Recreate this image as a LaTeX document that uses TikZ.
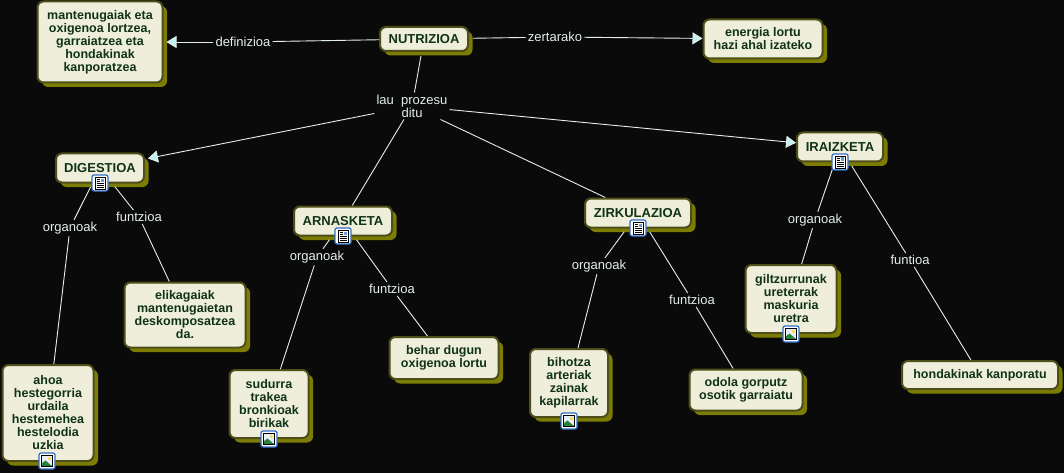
\documentclass[tikz,border=0pt]{standalone}
\usepackage{fontspec}
\setmainfont{Liberation Sans}
\definecolor{MapBack}   {RGB}{10,10,10}
\definecolor{BoxFill}   {RGB}{238,238,218}
\definecolor{BoxEdge}   {RGB}{78,78,24}
\definecolor{BoxShadow} {RGB}{125,125,5}
\definecolor{BoxText}   {RGB}{16,50,24}
\definecolor{LinkLine}  {RGB}{228,238,238}
\definecolor{IconBlue}  {RGB}{50,110,200}
\definecolor{IconGreen} {RGB}{40,130,60}
\usetikzlibrary{arrows.meta,shadows}
\newcommand{\noteicon}[2]{%
  \node[iconbox](#1) at (#2){};
  \draw[black,line width=0.7pt]([shift={(-5,-6)}]#1.center) rectangle ([shift={(5,6)}]#1.center);
  \draw[black,line width=0.8pt]
    ([shift={(-3.5,-3.5)}]#1.center)--++(3,0)
    ([shift={(-3.5,-1.5)}]#1.center)--++(3,0)
    ([shift={(-3.5,0.7)}]#1.center)--++(7,0)
    ([shift={(-3.5,2.5)}]#1.center)--++(7,0)
    ([shift={(-3.5,4.3)}]#1.center)--++(7,0);
  \fill[IconBlue!70]([shift={(0.5,-4.5)}]#1.center) rectangle ++(3.5,3.5);
}
\newcommand{\imageicon}[2]{%
  \node[iconbox](#1) at (#2){};
  \fill[IconBlue!12]([shift={(-5.5,-5.5)}]#1.center) rectangle ([shift={(5.5,5.5)}]#1.center);
  \fill[IconGreen]([shift={(-5.5,5.5)}]#1.center)--++(0,-3)--++(4,-3)--++(7,6)--cycle;
  \fill[yellow!80!orange]([shift={(2.5,-2.5)}]#1.center) circle (1.7);
  \draw[black,line width=0.7pt]([shift={(-5.5,-5.5)}]#1.center) rectangle ([shift={(5.5,5.5)}]#1.center);
}
\begin{document}
\begin{tikzpicture}[x=1pt,y=-1pt,
  box/.style={draw=BoxEdge,line width=2pt,fill=BoxFill,rounded corners=6pt,
              text=BoxText,inner sep=0pt,outer sep=1pt,align=center,
              font=\fontsize{12.5}{13}\selectfont\bfseries,
              drop shadow={shadow xshift=4.5pt,shadow yshift=-4.5pt,
                           fill=BoxShadow,opacity=1}},
  titlebox/.style={box,font=\fontsize{13}{13}\selectfont\bfseries},
  linklabel/.style={text=LinkLine,inner sep=2pt,align=center,
              font=\fontsize{13}{13}\selectfont},
  link/.style={LinkLine,line width=0.9pt},
  linkarrow/.style={link,-{Triangle[length=10pt,width=12pt,fill=LinkLine!85!cyan]}},
  fromshadow/.style={shorten <=4pt},
  toshadow/.style={shorten >=3pt},
  iconbox/.style={draw=IconBlue,line width=1.2pt,fill=white,rounded corners=2pt,
              minimum size=16pt,inner sep=0pt}]
  \useasboundingbox[fill=MapBack](0,0) rectangle (1064,473);

  \node[titlebox,minimum width=88,minimum height=24](nutrizioa) at (424,39){NUTRIZIOA};
  \node[box,minimum width=125,minimum height=81](definition) at (100,42)
       {mantenugaiak eta\\oxigenoa lortzea,\\garraiatzea eta\\hondakinak\\kanporatzea};
  \node[box,minimum width=119,minimum height=39](helburua) at (763,39)
       {energia lortu\\hazi ahal izateko};
  \node[titlebox,minimum width=88,minimum height=29](digestioa) at (100,168){DIGESTIOA};
  \node[titlebox,minimum width=98,minimum height=29](arnasketa) at (343,221){ARNASKETA};
  \node[titlebox,minimum width=106,minimum height=29](zirkulazioa) at (638,213){ZIRKULAZIOA};
  \node[titlebox,minimum width=86,minimum height=29](iraizketa) at (840,147){IRAIZKETA};
  \node[box,minimum width=121,minimum height=65](elikagaiak) at (185,315)
       {elikagaiak\\mantenugaietan\\deskomposatzea\\da.};
  \node[box,minimum width=109,minimum height=42](behar) at (444,358)
       {behar dugun\\oxigenoa lortu};
  \node[box,minimum width=91,minimum height=96](ahoa) at (48,413)
       {ahoa\\hestegorria\\urdaila\\hestemehea\\hestelodia\\uzkia};
  \node[box,minimum width=79,minimum height=68](sudurra) at (269,404)
       {sudurra\\trakea\\bronkioak\\birikak};
  \node[box,minimum width=78,minimum height=68](bihotza) at (569,383)
       {bihotza\\arteriak\\zainak\\kapilarrak};
  \node[box,minimum width=113,minimum height=41](odola) at (746,390)
       {odola gorputz\\osotik garraiatu};
  \node[box,minimum width=91,minimum height=68](giltzurrunak) at (791,299)
       {giltzurrunak\\ureterrak\\maskuria\\uretra};
  \node[box,minimum width=156,minimum height=28](hondakinak) at (980,375)
       {hondakinak kanporatu};

  \node[linklabel](definizioa) at (243,42){definizioa};
  \node[linklabel](zertarako) at (555,37){zertarako};
  \node[linklabel](prozesu) at (412,106){lau\ \ prozesu\\ditu};
  \node[linklabel](organoakd) at (70,228){organoak};
  \node[linklabel](funtzioad) at (139,217){funtzioa};
  \node[linklabel](organoaka) at (317,257){organoak};
  \node[linklabel](funtzioaa) at (392,289){funtzioa};
  \node[linklabel](organoakz) at (599,266){organoak};
  \node[linklabel](funtzioaz) at (692,300){funtzioa};
  \node[linklabel](organoaki) at (815,220){organoak};
  \node[linklabel](funtioa) at (910,260){funtioa};

  \draw[link](nutrizioa)--(definizioa);
  \draw[linkarrow,toshadow](definizioa)--(definition);
  \draw[link,fromshadow](nutrizioa)--(zertarako);
  \draw[linkarrow](zertarako)--(helburua);
  \draw[link,fromshadow](nutrizioa)--(prozesu);
  \draw[linkarrow,toshadow](prozesu)--(digestioa);
  \draw[link](prozesu)--(arnasketa);
  \draw[link](prozesu)--(zirkulazioa);
  \draw[linkarrow](prozesu)--(iraizketa);
  \draw[link,fromshadow](digestioa)--(organoakd);
  \draw[link](organoakd)--(ahoa);
  \draw[link,fromshadow](digestioa)--(funtzioad);
  \draw[link](funtzioad)--(elikagaiak);
  \draw[link,fromshadow](arnasketa)--(organoaka);
  \draw[link](organoaka)--(sudurra);
  \draw[link,fromshadow](arnasketa)--(funtzioaa);
  \draw[link](funtzioaa)--(behar);
  \draw[link,fromshadow](zirkulazioa)--(organoakz);
  \draw[link](organoakz)--(bihotza);
  \draw[link,fromshadow](zirkulazioa)--(funtzioaz);
  \draw[link](funtzioaz)--(odola);
  \draw[link,fromshadow](iraizketa)--(organoaki);
  \draw[link](organoaki)--(giltzurrunak);
  \draw[link,fromshadow](iraizketa)--(funtioa);
  \draw[link](funtioa)--(hondakinak);

  \noteicon{noted}{100,183}
  \noteicon{notea}{343,236}
  \noteicon{notez}{638,228}
  \noteicon{notei}{840,162}
  \imageicon{imaged}{47,461}
  \imageicon{imagea}{269,439}
  \imageicon{imagez}{569,421}
  \imageicon{imagei}{791,334}
\end{tikzpicture}
\end{document}
